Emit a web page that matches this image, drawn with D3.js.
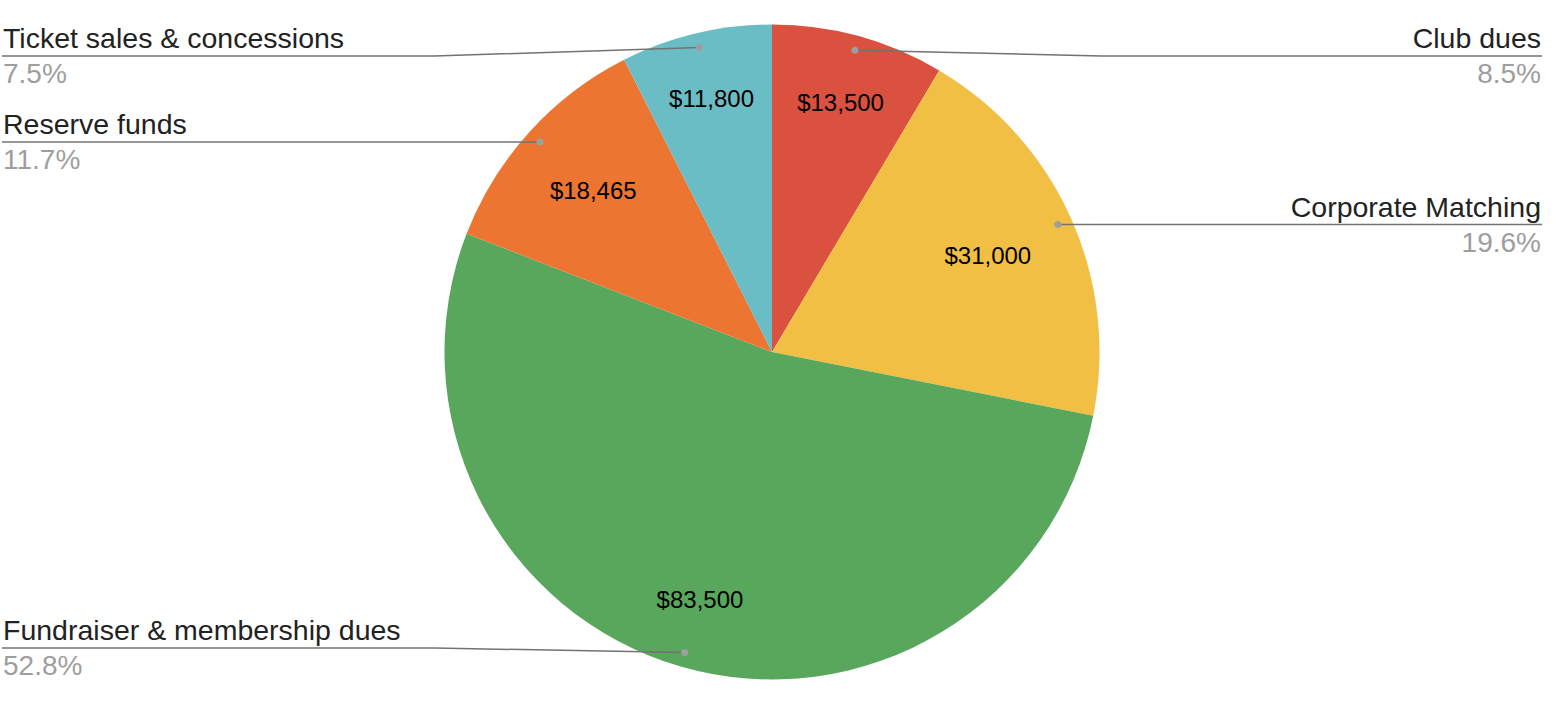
<!DOCTYPE html>
<html>
<head>
<meta charset="utf-8">
<script src="https://cdn.jsdelivr.net/npm/d3@7"></script>
<style>
  body { margin: 0; background: #fff; }
  svg { display: block; font-family: "Liberation Sans", Arial, sans-serif; }
</style>
</head>
<body>
<div id="chart"></div>
<script>
// data
var categories = ["Club dues", "Corporate Matching", "Fundraiser & membership dues", "Reserve funds", "Ticket sales & concessions"];
var values = [13500, 31000, 83500, 18465, 11800];
var colors = ["#DA5140", "#F1BF43", "#58A75C", "#EC7631", "#6ABCC5"];

var width = 1564,
    height = 713,
    cx = 772,
    cy = 352,
    radius = 327.5;

var svg = d3.select("#chart")
    .append("svg")
    .attr("width", width)
    .attr("height", height);

var total = d3.sum(values);
var slices = d3.pie().sort(null).value(function (d) { return d; })(values);

var arc = d3.arc().innerRadius(0).outerRadius(radius);
var dotArc = d3.arc().innerRadius(313).outerRadius(313);

var g = svg.append("g").attr("transform", "translate(" + cx + "," + cy + ")");

// slices
g.selectAll("path.slice")
    .data(slices)
    .enter().append("path")
    .attr("class", "slice")
    .attr("d", arc)
    .attr("fill", function (d, i) { return colors[i]; });

// value labels inside slices: text box pushed out along the bisector
// until its outer corner touches a fixed radius
var boxReach = 280;
g.selectAll("text.value")
    .data(slices)
    .enter().append("text")
    .attr("class", "value")
    .attr("text-anchor", "middle")
    .attr("dy", "0.35em")
    .attr("font-size", 24)
    .attr("fill", "#000")
    .text(function (d) { return "$" + d3.format(",")(d.value); })
    .attr("transform", function (d) {
        var a = (d.startAngle + d.endAngle) / 2;
        var s = Math.sin(a), c = Math.cos(a);
        var hw = this.getBBox().width / 2, hh = 10;
        var dist = boxReach - (hw * Math.abs(s) + hh * Math.abs(c));
        return "translate(" + (dist * s) + "," + (-dist * c) + ")";
    });

// outside labels with leader lines
var fmtPct = d3.format(".1f");
var minY = 56, maxY = 648;

slices.forEach(function (d, i) {
    var p = dotArc.centroid(d);
    var dotX = cx + p[0], dotY = cy + p[1];
    var right = (d.startAngle + d.endAngle) / 2 < Math.PI;
    var lineY = Math.max(minY, Math.min(maxY, dotY));
    var elbowX = right ? cx + radius + 2 : cx - radius - 10;
    var edgeX = right ? 1542 : 2;

    svg.append("path")
        .attr("d", d3.line()([[edgeX, lineY], [elbowX, lineY], [dotX, dotY]]))
        .attr("fill", "none")
        .attr("stroke", "#737373")
        .attr("stroke-width", 1.5);

    svg.append("circle")
        .attr("cx", dotX)
        .attr("cy", dotY)
        .attr("r", 3.5)
        .attr("fill", "#9e9e9e");

    var tx = right ? 1541 : 3;
    var anchor = right ? "end" : "start";

    svg.append("text")
        .attr("x", tx)
        .attr("y", lineY - 8)
        .attr("text-anchor", anchor)
        .attr("font-size", 28.5)
        .attr("fill", "#222")
        .text(categories[i]);

    svg.append("text")
        .attr("x", tx)
        .attr("y", lineY + 27)
        .attr("text-anchor", anchor)
        .attr("font-size", 28)
        .attr("fill", "#9e9e9e")
        .text(fmtPct(d.value / total * 100) + "%");
});
</script>
</body>
</html>
